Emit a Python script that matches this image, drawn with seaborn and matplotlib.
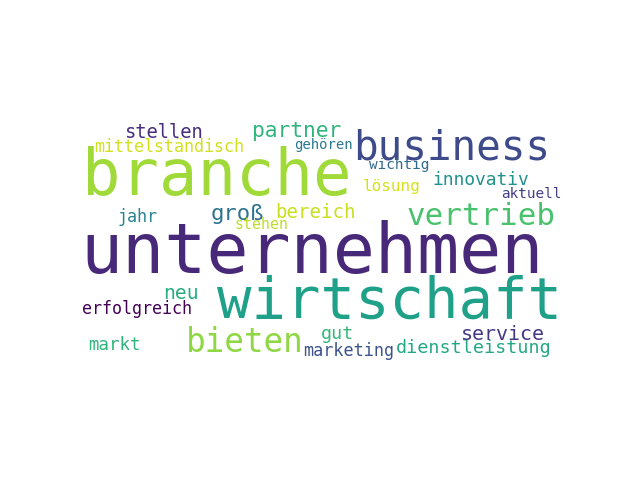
import matplotlib
matplotlib.use("Agg")
import matplotlib.pyplot as plt
import seaborn as sns

sns.set_theme(style="white")
plt.rcParams["font.family"] = ["DejaVu Sans Mono", "DejaVu Sans"]

# words, their size in the 400x200 cloud canvas, and colour
words = ["unternehmen", "wirtschaft", "branche", "business", "bieten",
         "vertrieb", "partner", "stellen", "mittelständisch", "groß",
         "bereich", "innovativ", "lösung", "wichtig", "gehören",
         "aktuell", "jahr", "stehen", "neu", "erfolgreich",
         "markt", "gut", "marketing", "dienstleistung", "service"]
sizes = [56.5, 46.2, 51.5, 33.1, 26.3,
         24.9, 17.2, 15.1, 13.4, 18.0,
         15.4, 14.4, 12.9, 11.6, 11.2,
         11.6, 13.4, 12.0, 15.8, 13.4,
         14.0, 14.8, 13.5, 14.8, 16.1]
colors = ["#482878", "#1fa088", "#a0da39", "#3e4a89", "#8fd744",
          "#4ac16d", "#2fb47c", "#472d7b", "#d0e11c", "#2c728e",
          "#c8e020", "#21918c", "#d5e21a", "#31688e", "#2a788e",
          "#433e85", "#26828e", "#bddf26", "#27ad81", "#440154",
          "#2fb47c", "#35b779", "#3b528b", "#22a785", "#443983"]

# layout of the cloud (word centre x, baseline y) in canvas units
pos_x = [187.5, 249.2, 110.1, 299.6, 132.9,
         323.0, 174.5, 67.2, 71.9, 127.0,
         190.3, 323.0, 251.6, 257.3, 196.5,
         364.1, 46.0, 146.0, 81.0, 46.0,
         27.4, 207.7, 216.5, 317.3, 341.1]
pos_y = [124.9, 161.0, 61.8, 33.0, 188.4,
         86.0, 14.8, 16.0, 26.9, 81.9,
         80.3, 53.7, 58.5, 40.8, 24.9,
         64.2, 83.3, 89.2, 145.6, 157.7,
         186.8, 177.9, 191.6, 189.2, 178.7]

fig, ax = plt.subplots(figsize=(6.4, 4.8), dpi=100)
ax.set_xlim(0, 400)
ax.set_ylim(200, 0)
ax.set_aspect("equal")
ax.axis("off")

# canvas unit -> pixels on screen (496 px for 400 units), then to points
px_per_unit = 496 / 400
for w, s, c, x, y in zip(words, sizes, colors, pos_x, pos_y):
    ax.text(x, y, w, fontsize=s * px_per_unit * 72 / 100, color=c,
            ha="center", va="baseline")

plt.savefig("out.png", dpi=100)
